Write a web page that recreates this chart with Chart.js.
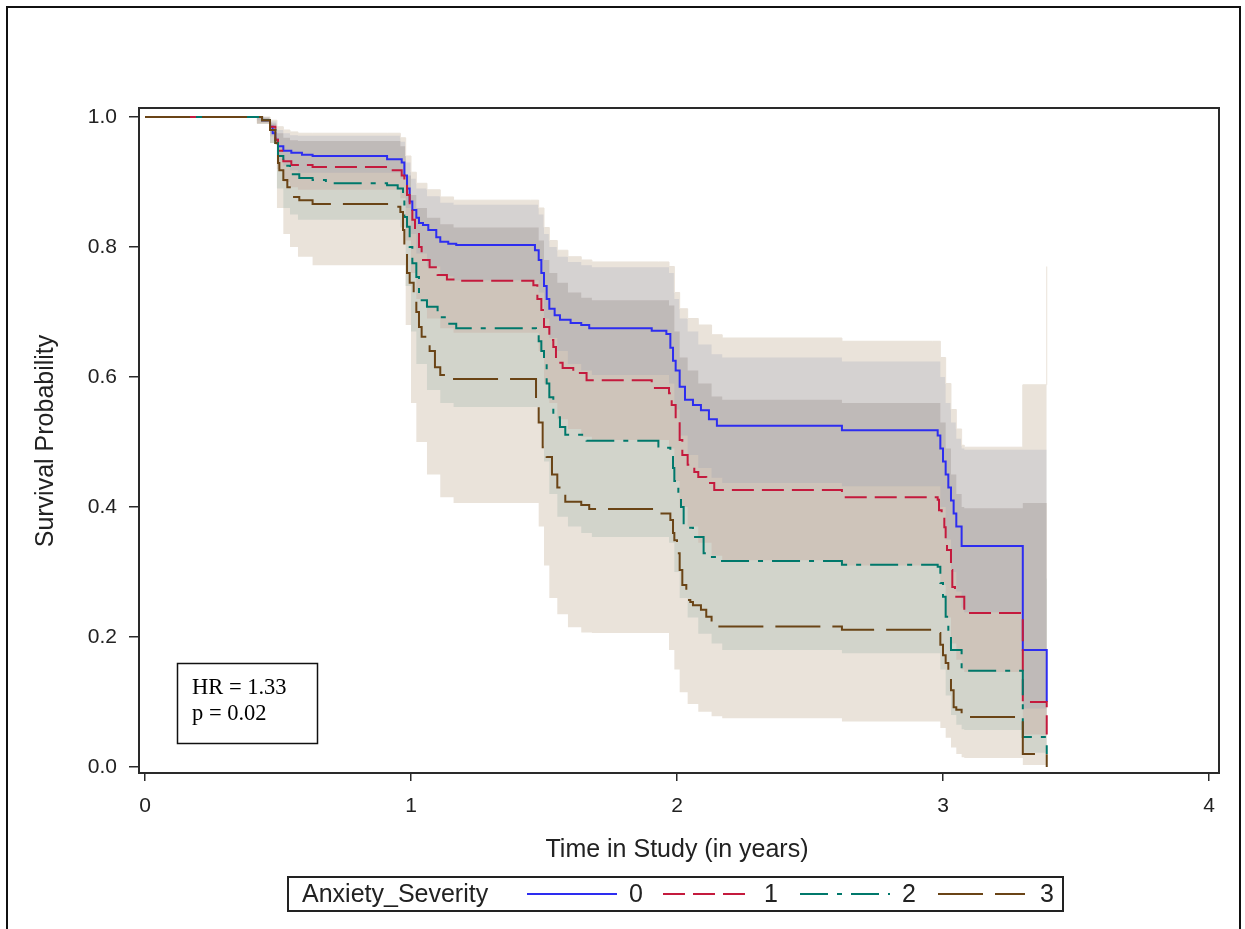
<!DOCTYPE html>
<html>
<head>
<meta charset="utf-8">
<title>Survival by Anxiety Severity</title>
<script src="https://cdn.jsdelivr.net/npm/chart.js@4.4.1/dist/chart.umd.min.js"></script>
<style>
  html, body { margin: 0; padding: 0; background: #ffffff; }
  canvas { display: block; }
</style>
</head>
<body>
<canvas id="km" width="1245" height="929"></canvas>
<script>
// ---- Kaplan-Meier estimates, one step function per severity level ----
const blueT = [0, 0.44, 0.47, 0.48, 0.49, 0.50, 0.52, 0.55, 0.59, 0.63, 0.91, 0.965, 0.975, 0.985, 0.995, 1.005, 1.02, 1.03, 1.045, 1.065, 1.095, 1.11, 1.14, 1.17, 1.466, 1.48, 1.49, 1.50, 1.51, 1.52, 1.54, 1.56, 1.60, 1.64, 1.67, 1.905, 1.96, 1.975, 1.985, 1.995, 2.01, 2.03, 2.06, 2.09, 2.12, 2.15, 2.62, 2.98, 2.99, 3.00, 3.01, 3.02, 3.03, 3.04, 3.05, 3.07, 3.30, 3.39];
const blueS = [1, 0.995, 0.985, 0.975, 0.965, 0.955, 0.948, 0.945, 0.942, 0.94, 0.935, 0.93, 0.91, 0.89, 0.87, 0.857, 0.845, 0.837, 0.834, 0.826, 0.815, 0.808, 0.805, 0.803, 0.795, 0.78, 0.76, 0.74, 0.72, 0.705, 0.695, 0.688, 0.683, 0.68, 0.675, 0.671, 0.666, 0.645, 0.625, 0.61, 0.585, 0.565, 0.557, 0.549, 0.535, 0.525, 0.518, 0.51, 0.49, 0.47, 0.45, 0.43, 0.41, 0.39, 0.37, 0.34, 0.18, 0.10];

const redT = [0, 0.44, 0.47, 0.49, 0.50, 0.52, 0.55, 0.63, 0.91, 0.965, 0.975, 0.985, 0.995, 1.005, 1.015, 1.03, 1.04, 1.07, 1.10, 1.135, 1.165, 1.46, 1.475, 1.49, 1.50, 1.52, 1.535, 1.545, 1.57, 1.61, 1.66, 1.905, 1.97, 1.98, 1.995, 2.01, 2.02, 2.04, 2.065, 2.08, 2.11, 2.14, 2.62, 2.98, 2.985, 2.995, 3.005, 3.01, 3.015, 3.03, 3.035, 3.045, 3.08, 3.30, 3.39];
const redS = [1, 0.995, 0.985, 0.965, 0.948, 0.932, 0.926, 0.923, 0.918, 0.91, 0.90, 0.88, 0.86, 0.842, 0.822, 0.80, 0.78, 0.769, 0.757, 0.75, 0.748, 0.741, 0.72, 0.703, 0.677, 0.657, 0.646, 0.622, 0.614, 0.606, 0.595, 0.583, 0.575, 0.557, 0.534, 0.503, 0.48, 0.465, 0.454, 0.446, 0.437, 0.426, 0.415, 0.411, 0.395, 0.385, 0.369, 0.349, 0.334, 0.303, 0.277, 0.262, 0.237, 0.10, 0.05];

const tealT = [0, 0.44, 0.47, 0.49, 0.50, 0.52, 0.545, 0.58, 0.63, 0.68, 0.91, 0.95, 0.97, 0.975, 0.985, 0.995, 1.005, 1.02, 1.03, 1.06, 1.10, 1.14, 1.17, 1.47, 1.48, 1.49, 1.50, 1.51, 1.52, 1.535, 1.56, 1.58, 1.66, 1.93, 1.975, 1.985, 1.99, 2.005, 2.015, 2.025, 2.06, 2.10, 2.12, 2.15, 2.62, 2.98, 2.99, 3.00, 3.01, 3.02, 3.03, 3.07, 3.30, 3.39];
const tealS = [1, 0.995, 0.98, 0.96, 0.94, 0.925, 0.912, 0.906, 0.903, 0.898, 0.895, 0.89, 0.877, 0.846, 0.831, 0.80, 0.775, 0.754, 0.718, 0.708, 0.692, 0.682, 0.675, 0.672, 0.655, 0.64, 0.626, 0.59, 0.569, 0.538, 0.523, 0.511, 0.502, 0.491, 0.477, 0.46, 0.44, 0.421, 0.40, 0.368, 0.354, 0.329, 0.323, 0.317, 0.311, 0.308, 0.283, 0.262, 0.231, 0.206, 0.18, 0.148, 0.046, 0.02];

const brownT = [0, 0.44, 0.47, 0.49, 0.495, 0.50, 0.505, 0.52, 0.535, 0.55, 0.58, 0.63, 0.91, 0.96, 0.97, 0.975, 0.985, 0.995, 1.01, 1.02, 1.03, 1.04, 1.07, 1.09, 1.11, 1.15, 1.47, 1.48, 1.495, 1.51, 1.53, 1.55, 1.565, 1.58, 1.64, 1.67, 1.93, 1.975, 1.985, 1.99, 2.0, 2.01, 2.02, 2.035, 2.05, 2.06, 2.09, 2.11, 2.13, 2.15, 2.62, 2.98, 2.99, 3.0, 3.01, 3.02, 3.03, 3.04, 3.05, 3.07, 3.30, 3.39];
const brownS = [1, 0.995, 0.98, 0.96, 0.94, 0.929, 0.918, 0.903, 0.892, 0.877, 0.872, 0.866, 0.862, 0.854, 0.826, 0.80, 0.76, 0.745, 0.73, 0.70, 0.677, 0.662, 0.64, 0.615, 0.603, 0.597, 0.56, 0.53, 0.492, 0.477, 0.45, 0.43, 0.42, 0.408, 0.403, 0.397, 0.39, 0.38, 0.36, 0.349, 0.329, 0.303, 0.28, 0.257, 0.254, 0.249, 0.242, 0.231, 0.223, 0.216, 0.211, 0.206, 0.188, 0.172, 0.16, 0.145, 0.118, 0.092, 0.088, 0.077, 0.02, 0];

// ---- confidence bands, sampled on a shared time grid ----
const bandT = [0.42, 0.47, 0.496, 0.52, 0.545, 0.575, 0.63,
  0.91, 0.96, 0.98, 1.00, 1.02, 1.06, 1.11, 1.16,
  1.45, 1.48, 1.50, 1.52, 1.55, 1.59, 1.64, 1.68,
  1.93, 1.97, 1.99, 2.01, 2.04, 2.08, 2.13, 2.17,
  2.62,
  2.96, 2.99, 3.01, 3.03, 3.05, 3.07, 3.08,
  3.30, 3.39];

const upper0 = [1.0, 0.993, 0.98, 0.975, 0.972, 0.971, 0.971,
  0.971, 0.962, 0.93, 0.905, 0.89, 0.878, 0.868, 0.865,
  0.865, 0.85, 0.82, 0.80, 0.785, 0.777, 0.772, 0.769,
  0.769, 0.76, 0.72, 0.69, 0.67, 0.65, 0.635, 0.63,
  0.624,
  0.624, 0.60, 0.56, 0.53, 0.505, 0.49, 0.488,
  0.488, 0.488];
const lower0 = [0.995, 0.975, 0.94, 0.925, 0.918, 0.914, 0.914,
  0.914, 0.905, 0.86, 0.82, 0.79, 0.77, 0.755, 0.749,
  0.749, 0.73, 0.69, 0.66, 0.64, 0.62, 0.61, 0.603,
  0.603, 0.59, 0.55, 0.51, 0.48, 0.46, 0.445, 0.437,
  0.432,
  0.432, 0.40, 0.35, 0.30, 0.27, 0.245, 0.238,
  0.09, 0.09];

const upper1 = [1.0, 0.99, 0.975, 0.968, 0.964, 0.963, 0.963,
  0.963, 0.955, 0.91, 0.88, 0.86, 0.845, 0.835, 0.83,
  0.83, 0.81, 0.78, 0.76, 0.745, 0.73, 0.722, 0.718,
  0.718, 0.71, 0.67, 0.63, 0.61, 0.59, 0.57, 0.565,
  0.56,
  0.56, 0.53, 0.49, 0.45, 0.42, 0.40, 0.398,
  0.406, 0.406];
const lower1 = [0.99, 0.97, 0.92, 0.90, 0.892, 0.888, 0.888,
  0.888, 0.875, 0.81, 0.76, 0.72, 0.69, 0.675, 0.668,
  0.668, 0.64, 0.59, 0.56, 0.535, 0.52, 0.508, 0.503,
  0.503, 0.49, 0.44, 0.40, 0.37, 0.345, 0.325, 0.318,
  0.31,
  0.31, 0.28, 0.23, 0.19, 0.165, 0.15, 0.146,
  0.05, 0.05];

const upper2 = [1.0, 0.985, 0.965, 0.955, 0.948, 0.945, 0.942,
  0.942, 0.935, 0.88, 0.84, 0.81, 0.79, 0.775, 0.77,
  0.77, 0.75, 0.71, 0.68, 0.66, 0.645, 0.635, 0.63,
  0.63, 0.62, 0.57, 0.53, 0.50, 0.48, 0.465, 0.46,
  0.455,
  0.455, 0.42, 0.38, 0.35, 0.32, 0.30, 0.298,
  0.29, 0.29];
const lower2 = [0.99, 0.96, 0.89, 0.86, 0.85, 0.842, 0.842,
  0.842, 0.83, 0.74, 0.67, 0.62, 0.58, 0.56, 0.554,
  0.554, 0.53, 0.47, 0.42, 0.385, 0.37, 0.36, 0.354,
  0.354, 0.345, 0.30, 0.26, 0.23, 0.205, 0.19, 0.18,
  0.175,
  0.175, 0.15, 0.11, 0.08, 0.065, 0.058, 0.057,
  0.022, 0.022];

const upper3 = [1.0, 0.995, 0.985, 0.98, 0.977, 0.975, 0.975,
  0.975, 0.968, 0.94, 0.915, 0.898, 0.888, 0.877, 0.872,
  0.872, 0.86, 0.83, 0.81, 0.795, 0.785, 0.78, 0.777,
  0.777, 0.77, 0.73, 0.705, 0.69, 0.68, 0.665, 0.66,
  0.655,
  0.655, 0.63, 0.59, 0.55, 0.52, 0.495, 0.492,
  0.588, 0.77];
const lower3 = [0.99, 0.97, 0.86, 0.82, 0.80, 0.785, 0.772,
  0.772, 0.772, 0.68, 0.56, 0.50, 0.45, 0.415, 0.406,
  0.406, 0.37, 0.31, 0.26, 0.235, 0.215, 0.207, 0.206,
  0.206, 0.18, 0.15, 0.115, 0.097, 0.085, 0.078, 0.075,
  0.07,
  0.07, 0.06, 0.045, 0.03, 0.02, 0.015, 0.014,
  0.003, 0.003];

// ---- axes, legend and annotation text ----
const xTicks = [0, 1, 2, 3, 4];
const yTicks = [0, 0.2, 0.4, 0.6, 0.8, 1.0];
const groupLabels = ['0', '1', '2', '3'];
const legendTitle = 'Anxiety_Severity';
const xTitle = 'Time in Study (in years)';
const yTitle = 'Survival Probability';
const statLines = ['HR = 1.33', 'p = 0.02'];

// ---- styling ----
const SANS = '"Liberation Sans", Arial, Helvetica, sans-serif';
const SERIF = '"Liberation Serif", "Times New Roman", serif';
const lineColors = ['#2d2df0', '#c41a3d', '#00786b', '#6a4416'];
const lineDashes = [[], [22, 8], [28, 9, 5, 9], [45, 12]];
const bandColors = ['rgba(139,150,178,0.22)', 'rgb(206,196,186)', 'rgb(210,212,203)', 'rgb(234,227,218)'];

const pts = (ts, vs) => ts.map((t, i) => ({ x: t, y: vs[i] }));

const curves = [[blueT, blueS], [redT, redS], [tealT, tealS], [brownT, brownS]];
const bands = [[upper0, lower0], [upper1, lower1], [upper2, lower2], [upper3, lower3]];

const datasets = [];
// bands: level 3 at the bottom, level 0 on top
const bandOrder = [7, 8, 9, 10];
for (let g = 3; g >= 0; g--) {
  const [up, lo] = bands[g];
  datasets.push({
    label: 'band-upper-' + g,
    data: pts(bandT, up),
    stepped: true,
    fill: '+1',
    backgroundColor: bandColors[g],
    borderColor: g === 3 ? bandColors[3] : 'rgba(0,0,0,0)',
    borderWidth: g === 3 ? 1 : 0,
    pointRadius: 0,
    order: bandOrder[g]
  });
  datasets.push({
    label: 'band-lower-' + g,
    data: pts(bandT, lo),
    stepped: true,
    fill: false,
    borderColor: 'rgba(0,0,0,0)',
    borderWidth: 0,
    pointRadius: 0,
    order: bandOrder[g]
  });
}
// survival curves: level 3 drawn last (on top)
const curveOrder = [4, 3, 2, 1];
curves.forEach(([ts, vs], g) => {
  datasets.push({
    label: groupLabels[g],
    data: pts(ts, vs),
    stepped: true,
    fill: false,
    borderColor: lineColors[g],
    borderWidth: 2,
    borderDash: lineDashes[g],
    pointRadius: 0,
    order: curveOrder[g]
  });
});

// frame, titles, legend box and statistics box
const decor = {
  id: 'decor',
  afterDraw(chart) {
    const { ctx, chartArea: a } = chart;
    ctx.save();

    // outer border
    ctx.strokeStyle = '#111';
    ctx.lineWidth = 2;
    ctx.strokeRect(7, 7, 1233, 940);

    // plot frame
    ctx.strokeStyle = '#2a2a2a';
    ctx.lineWidth = 2;
    ctx.strokeRect(a.left, a.top, a.right - a.left, a.bottom - a.top);

    // axis titles
    ctx.fillStyle = '#222';
    ctx.font = '25px ' + SANS;
    ctx.textAlign = 'center';
    ctx.textBaseline = 'middle';
    ctx.fillText(xTitle, 677, 850);
    ctx.save();
    ctx.translate(46, 441);
    ctx.rotate(-Math.PI / 2);
    ctx.fillText(yTitle, 0, 0);
    ctx.restore();

    // statistics box
    ctx.strokeStyle = '#111';
    ctx.lineWidth = 1.5;
    ctx.strokeRect(177.5, 663.5, 140, 80);
    ctx.fillStyle = '#000';
    ctx.font = '22.5px ' + SERIF;
    ctx.textAlign = 'left';
    ctx.textBaseline = 'alphabetic';
    ctx.fillText(statLines[0], 192, 694);
    ctx.fillText(statLines[1], 192, 720);

    // legend
    const ly = 894;
    ctx.strokeStyle = '#222';
    ctx.lineWidth = 2;
    ctx.strokeRect(288, 877, 775, 34);
    ctx.fillStyle = '#222';
    ctx.font = '25px ' + SANS;
    ctx.textAlign = 'left';
    ctx.textBaseline = 'middle';
    ctx.fillText(legendTitle, 302, ly + 1);
    const samples = [[527, 617, 636], [663, 748, 771], [800, 890, 909], [938, 1025, 1047]];
    samples.forEach(([x0, x1, tx], g) => {
      ctx.beginPath();
      ctx.setLineDash(lineDashes[g]);
      ctx.lineDashOffset = 0;
      ctx.strokeStyle = lineColors[g];
      ctx.lineWidth = 2;
      ctx.moveTo(x0, ly);
      ctx.lineTo(x1, ly);
      ctx.stroke();
      ctx.setLineDash([]);
      ctx.fillStyle = '#222';
      ctx.textAlign = 'center';
      ctx.fillText(groupLabels[g], tx, ly + 1);
    });

    ctx.restore();
  }
};

new Chart(document.getElementById('km'), {
  type: 'line',
  data: { datasets },
  options: {
    responsive: false,
    animation: false,
    devicePixelRatio: 1,
    layout: { padding: { left: 0, top: 108, right: 26, bottom: 0 } },
    plugins: {
      legend: { display: false },
      tooltip: { enabled: false },
      filler: { drawTime: 'beforeDatasetsDraw', propagate: false }
    },
    elements: { line: { tension: 0 }, point: { radius: 0 } },
    scales: {
      x: {
        type: 'linear',
        min: -0.0226,
        max: 4.0376,
        afterBuildTicks: s => { s.ticks = xTicks.map(v => ({ value: v })); },
        afterFit: s => { s.height = 156; },
        ticks: {
          callback: v => String(v),
          font: { family: SANS, size: 21 },
          color: '#222',
          padding: 13,
          maxRotation: 0,
          autoSkip: false
        },
        grid: { drawOnChartArea: false, drawTicks: true, tickLength: 8, color: '#2a2a2a', lineWidth: 1.5 },
        border: { display: false }
      },
      y: {
        type: 'linear',
        min: -0.0092,
        max: 1.0138,
        afterBuildTicks: s => { s.ticks = yTicks.map(v => ({ value: v })); },
        afterFit: s => { s.width = 139; },
        ticks: {
          callback: v => Number(v).toFixed(1),
          font: { family: SANS, size: 21 },
          color: '#222',
          padding: 12,
          autoSkip: false
        },
        grid: { drawOnChartArea: false, drawTicks: true, tickLength: 10, color: '#2a2a2a', lineWidth: 1.5 },
        border: { display: false }
      }
    }
  },
  plugins: [decor]
});
</script>
</body>
</html>
